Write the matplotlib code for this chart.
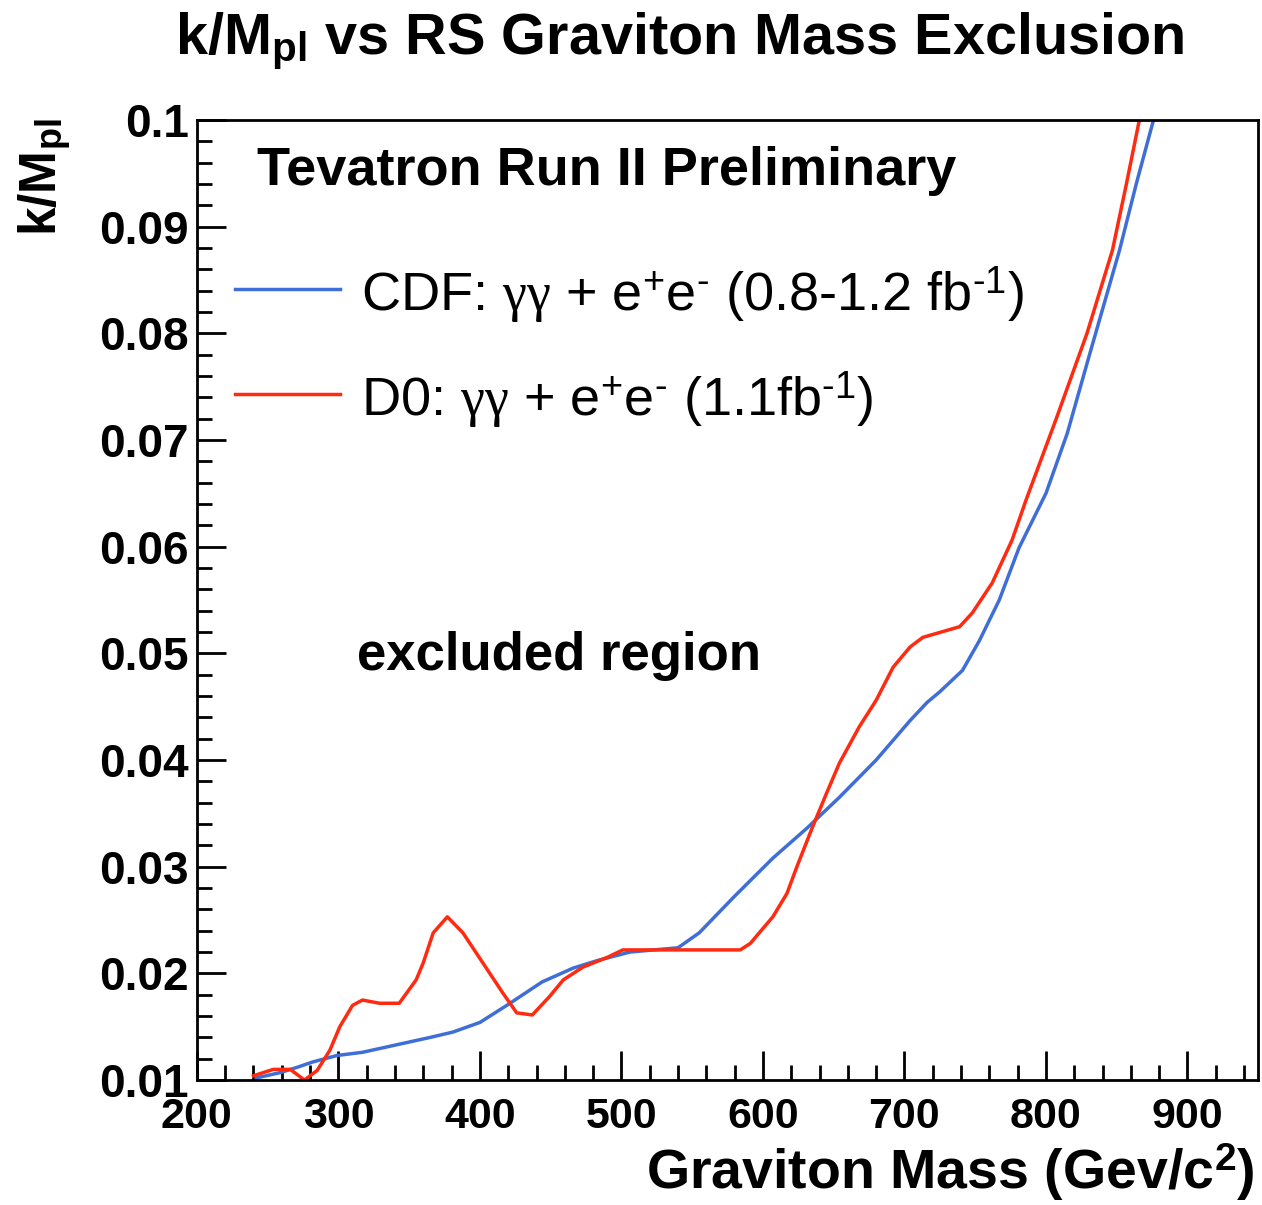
import matplotlib
matplotlib.use("Agg")
import matplotlib.pyplot as plt
from matplotlib.ticker import MultipleLocator

plt.rcParams['font.family'] = ['Liberation Sans', 'DejaVu Sans']
plt.rcParams['mathtext.fontset'] = 'custom'
plt.rcParams['mathtext.rm'] = 'Liberation Sans'
plt.rcParams['mathtext.it'] = 'Liberation Serif'
plt.rcParams['mathtext.bf'] = 'Liberation Sans:bold'

# CDF (gamma gamma + ee) limit
cdf_mass = [242, 259, 271, 282, 299, 317, 341, 365, 381, 400, 419, 444, 466, 483,
            506, 540, 555, 579, 607, 631, 654, 680, 704, 716, 725, 741, 753, 767,
            781, 800, 815, 831, 852, 864, 876]
cdf_k = [0.0102, 0.0107, 0.0112, 0.0117, 0.0123, 0.0126, 0.0133, 0.0140, 0.0145,
         0.0154, 0.0170, 0.0192, 0.0205, 0.0212, 0.0220, 0.0224, 0.0238, 0.0271,
         0.0308, 0.0336, 0.0365, 0.0400, 0.0437, 0.0454, 0.0464, 0.0484, 0.0512,
         0.0550, 0.0599, 0.0650, 0.0706, 0.0781, 0.0878, 0.0941, 0.1000]

# D0 (gamma gamma + ee) limit
d0_mass = [240, 254, 266, 276, 285, 294, 301, 310, 317, 329, 343, 355, 360, 367,
           377, 388, 402, 416, 426, 437, 449, 459, 473, 490, 501, 540, 584, 591,
           607, 617, 624, 635, 645, 654, 668, 680, 692, 704, 713, 739, 748, 762,
           776, 786, 807, 829, 847, 857, 866]
d0_k = [0.0104, 0.0110, 0.0110, 0.0100, 0.0109, 0.0128, 0.0150, 0.0170, 0.0175,
        0.0172, 0.0172, 0.0194, 0.0210, 0.0238, 0.0253, 0.0238, 0.0210, 0.0182,
        0.0163, 0.0161, 0.0178, 0.0194, 0.0206, 0.0215, 0.0222, 0.0222, 0.0222,
        0.0228, 0.0253, 0.0275, 0.0300, 0.0337, 0.0369, 0.0397, 0.0431, 0.0456,
        0.0487, 0.0506, 0.0515, 0.0525, 0.0538, 0.0566, 0.0606, 0.0644, 0.0719,
        0.0800, 0.0878, 0.0941, 0.1000]

x_ticks = [200, 300, 400, 500, 600, 700, 800, 900]
y_ticks = [0.01, 0.02, 0.03, 0.04, 0.05, 0.06, 0.07, 0.08, 0.09, 0.1]
y_tick_labels = ['0.01', '0.02', '0.03', '0.04', '0.05', '0.06', '0.07', '0.08', '0.09', '0.1']

fig = plt.figure(figsize=(12.62, 12.05), dpi=100)
ax = fig.add_axes([0.156, 0.1037, 0.841, 0.7967])

ax.plot(cdf_mass, cdf_k, color='#3f6fd6', lw=2.5, solid_joinstyle='round')
ax.plot(d0_mass, d0_k, color='#ff2a10', lw=2.5, solid_joinstyle='round')

ax.set_xlim(200, 950)
ax.set_ylim(0.01, 0.1)
ax.set_xticks(x_ticks)
ax.set_xticklabels([str(v) for v in x_ticks])
ax.set_yticks(y_ticks)
ax.set_yticklabels(y_tick_labels)
ax.xaxis.set_minor_locator(MultipleLocator(20))
ax.yaxis.set_minor_locator(MultipleLocator(0.002))
ax.tick_params(which='both', direction='in', top=False, right=False, width=2)
ax.tick_params(which='major', length=21)
ax.tick_params(which='minor', length=11)
ax.tick_params(axis='x', pad=12, labelsize=31)
ax.tick_params(axis='y', pad=6, labelsize=33)
for lab in ax.get_xticklabels() + ax.get_yticklabels():
    lab.set_fontweight('bold')
for sp in ax.spines.values():
    sp.set_linewidth(2)

fig.text(0.539, 0.966, r'k/M$_{\mathbf{pl}}$ vs RS Graviton Mass Exclusion',
         ha='center', va='center', fontsize=41.5, fontweight='bold')

fig.text(0.994, 0.027, r'Graviton Mass (Gev/c$^{\mathbf{2}}$)', ha='right',
         va='center', fontsize=40, fontweight='bold')
fig.text(0.036, 0.902, r'k/M$_{\mathbf{pl}}$', ha='center', va='top',
         rotation=90, fontsize=37, fontweight='bold')

ax.text(0.057, 0.947, 'Tevatron Run II Preliminary', transform=ax.transAxes,
        ha='left', va='center', fontsize=39, fontweight='bold')
ax.text(0.151, 0.442, 'excluded region', transform=ax.transAxes,
        ha='left', va='center', fontsize=38, fontweight='bold')

# legend
ax.plot([0.036, 0.135], [0.824, 0.824], transform=ax.transAxes,
        color='#3f6fd6', lw=2.5)
ax.plot([0.036, 0.135], [0.715, 0.715], transform=ax.transAxes,
        color='#ff2a10', lw=2.5)
ax.text(0.155, 0.818, r'CDF: $\gamma\gamma$ + e$^{+}$e$^{\text{-}}$ (0.8-1.2 fb$^{\text{-}1}$)',
        transform=ax.transAxes, ha='left', va='center', fontsize=39)
ax.text(0.155, 0.708, r'D0: $\gamma\gamma$ + e$^{+}$e$^{\text{-}}$ (1.1fb$^{\text{-}1}$)',
        transform=ax.transAxes, ha='left', va='center', fontsize=39)

fig.savefig('out.png', dpi=100)
